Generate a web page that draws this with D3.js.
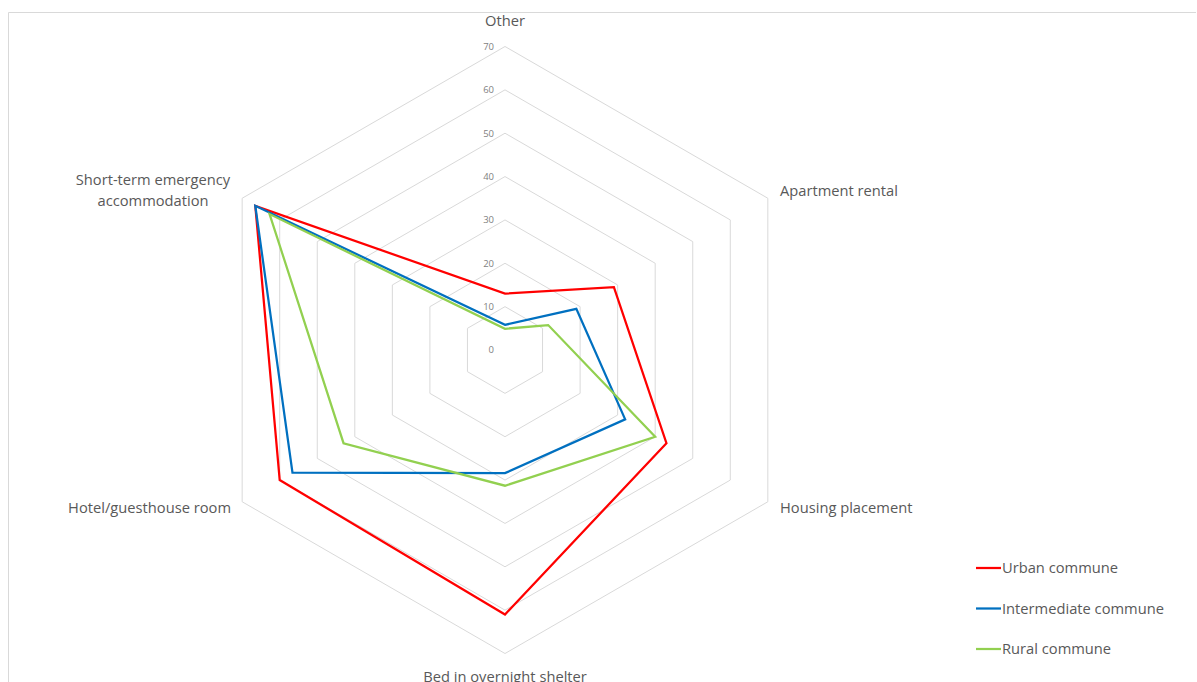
<!DOCTYPE html>
<html>
<head>
<meta charset="utf-8">
<script src="https://cdn.jsdelivr.net/npm/d3@7"></script>
<style>
  html, body { margin: 0; padding: 0; background: #ffffff; }
  svg { display: block; }
  text { font-family: "Open Sans", "Noto Sans", sans-serif; fill: #595959; }
</style>
</head>
<body>
<svg id="chart" width="1197" height="682"></svg>
<script>
// Axis categories, clockwise from the top
const categories = [
  "Other",
  "Apartment rental",
  "Housing placement",
  "Bed in overnight shelter",
  "Hotel/guesthouse room",
  "Short-term emergency accommodation"
];

// Series values (%), in category order
const urban        = [13, 29, 43, 61, 60, 66.5];
const intermediate = [5.8, 19, 32, 28.4, 56.6, 66.5];
const rural        = [4.9, 11.5, 40, 31.3, 43, 62.7];

const seriesNames  = ["Urban commune", "Intermediate commune", "Rural commune"];
const seriesColors = ["#ff0000", "#0070c0", "#92d050"];

// Radial tick values
const ticks = [0, 10, 20, 30, 40, 50, 60, 70];

const svg = d3.select("#chart");
const cx = 505, cy = 350;

// Chart frame
svg.append("path")
  .attr("d", "M8.5,682 L8.5,12.5 L1196,12.5")
  .attr("fill", "none")
  .attr("stroke", "#d9d9d9")
  .attr("stroke-width", 1);

const r = d3.scaleLinear().domain([0, 70]).range([0, 303.5]);
const angle = d3.scaleLinear().domain([0, categories.length]).range([0, 2 * Math.PI]);

const point = (i, v) => {
  const a = angle(i);
  return [cx + r(v) * Math.sin(a), cy - r(v) * Math.cos(a)];
};

const g = svg.append("g");

// Hexagonal gridlines
ticks.filter(t => t > 0).forEach(t => {
  const pts = categories.map((_, i) => point(i, t));
  g.append("path")
    .attr("d", d3.line()(pts) + "Z")
    .attr("fill", "none")
    .attr("stroke", "#d9d9d9")
    .attr("stroke-width", 1);
});

// Tick labels along the top axis
g.selectAll(".tick")
  .data(ticks)
  .join("text")
  .attr("class", "tick")
  .attr("x", cx - 11)
  .attr("y", t => cy - r(t))
  .attr("dy", "0.35em")
  .attr("text-anchor", "end")
  .attr("font-size", 9.5)
  .style("fill", "#7f7f7f")
  .text(t => t);

// Series polygons
const allSeries = [urban, intermediate, rural];
allSeries.forEach((vals, k) => {
  const pts = vals.map((v, i) => point(i, v));
  g.append("path")
    .attr("d", d3.line()(pts) + "Z")
    .attr("fill", "none")
    .attr("stroke", seriesColors[k])
    .attr("stroke-width", 2.25)
    .attr("stroke-linejoin", "miter");
});

// Category labels
const labelFont = 14.7;
const catLabels = [
  { lines: ["Other"], x: cx, y: 21, anchor: "middle" },
  { lines: ["Apartment rental"], x: 780, y: 191, anchor: "start" },
  { lines: ["Housing placement"], x: 780, y: 508, anchor: "start" },
  { lines: ["Bed in overnight shelter"], x: cx, y: 677, anchor: "middle" },
  { lines: ["Hotel/guesthouse room"], x: 231, y: 508, anchor: "end" },
  { lines: ["Short-term emergency", "accommodation"], x: 153, y: 180, anchor: "middle" }
];
catLabels.forEach((c, i) => {
  const t = svg.append("text")
    .attr("x", c.x)
    .attr("y", c.y)
    .attr("text-anchor", c.anchor)
    .attr("font-size", labelFont);
  if (c.lines.length === 1) {
    t.attr("dy", "0.35em").text(categories[i]);
  } else {
    c.lines.forEach((ln, j) => {
      t.append("tspan")
        .attr("x", c.x)
        .attr("y", c.y + j * 21)
        .attr("dy", "0.35em")
        .text(ln);
    });
  }
});

// Legend
const legend = svg.append("g");
seriesNames.forEach((name, k) => {
  const y = 568 + k * 40.5;
  legend.append("line")
    .attr("x1", 976).attr("x2", 1001)
    .attr("y1", y).attr("y2", y)
    .attr("stroke", seriesColors[k])
    .attr("stroke-width", 2.25);
  legend.append("text")
    .attr("x", 1002)
    .attr("y", y)
    .attr("dy", "0.35em")
    .attr("font-size", labelFont)
    .text(name);
});
</script>
</body>
</html>
